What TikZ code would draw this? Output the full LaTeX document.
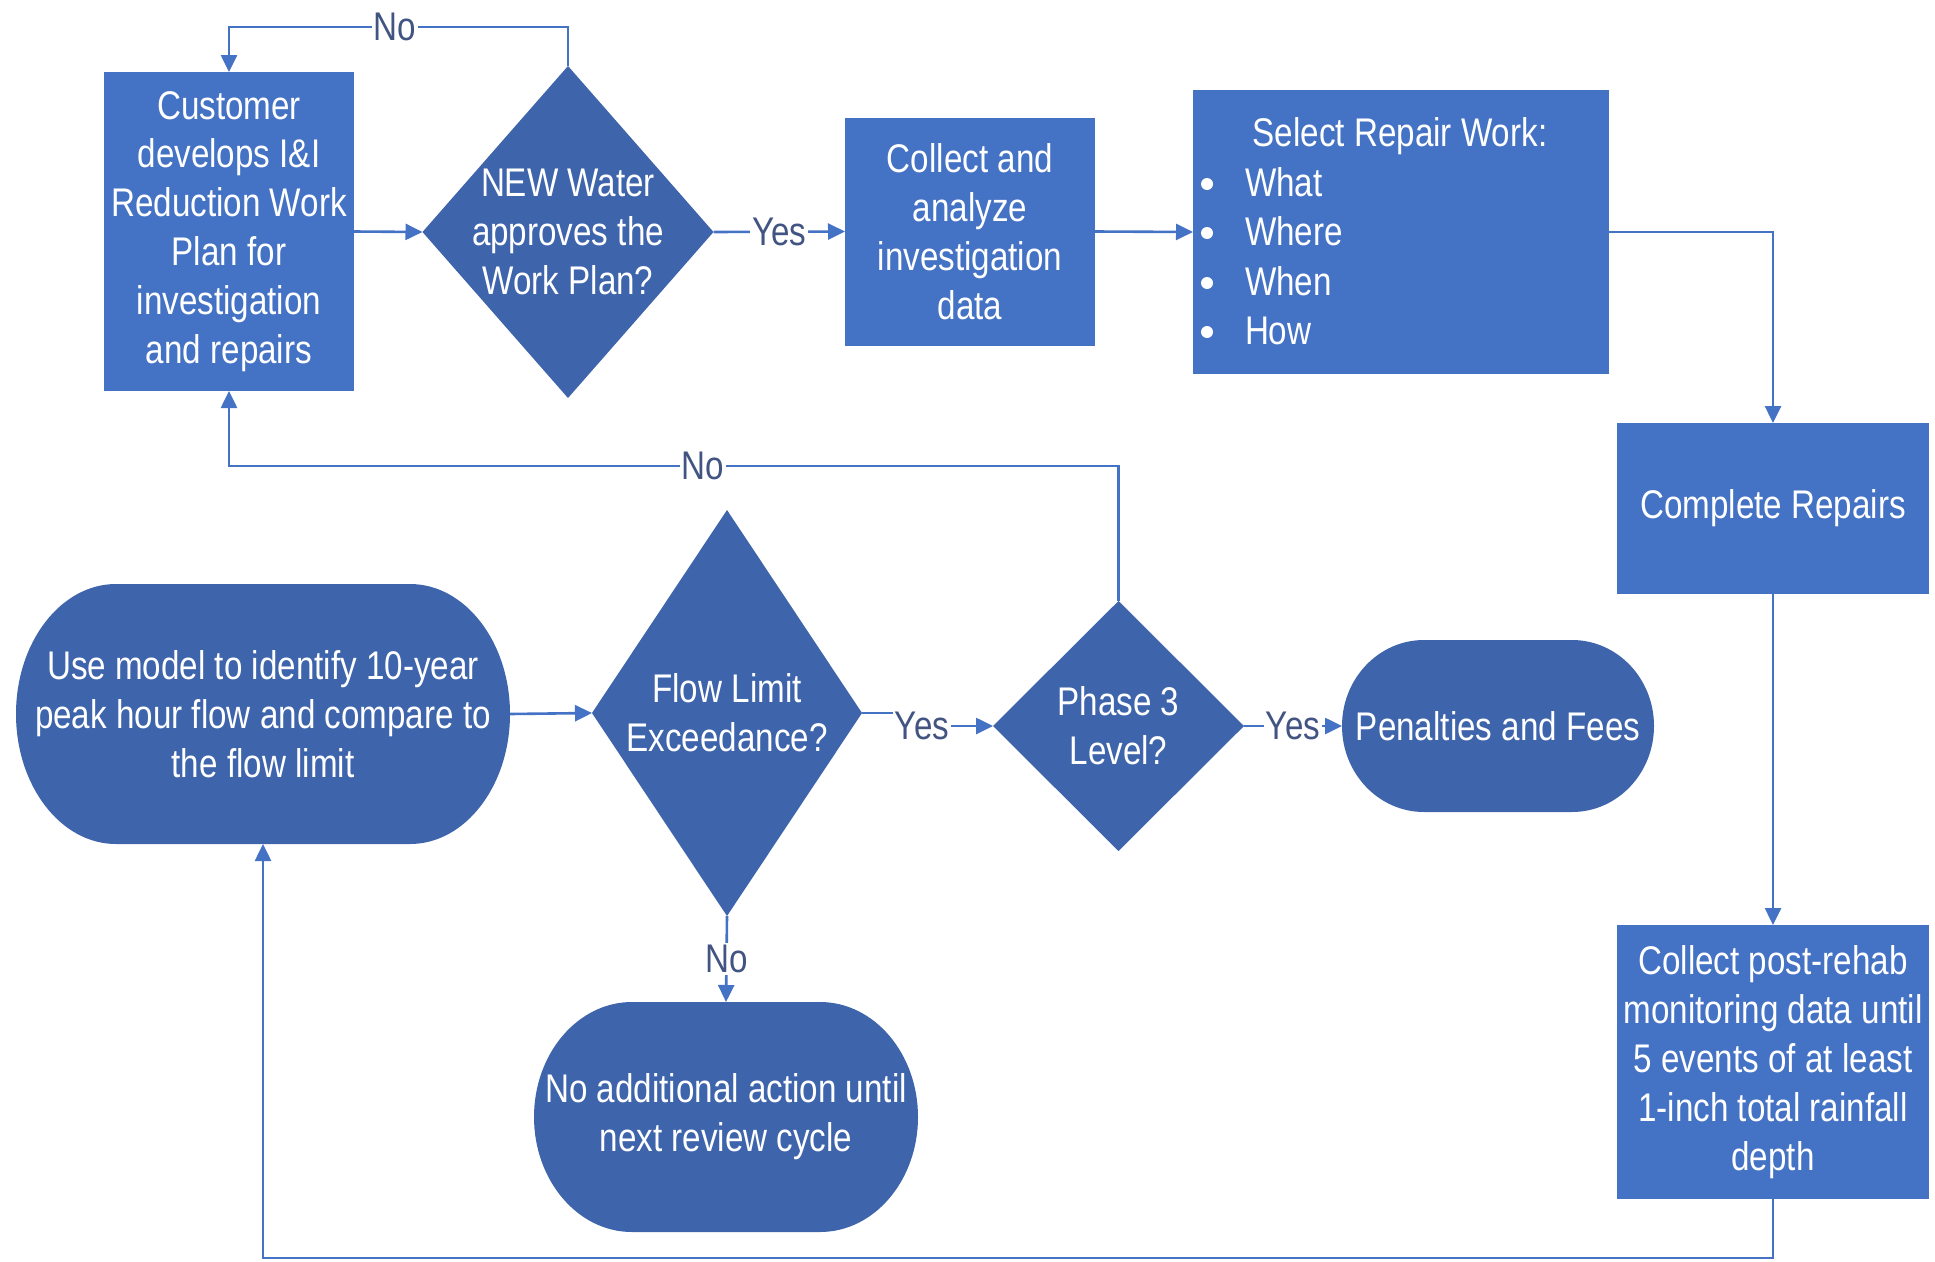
\documentclass[tikz,border=0pt]{standalone}
\usepackage{fontspec}
\setmainfont{Liberation Sans}[FakeStretch=0.83]
\usetikzlibrary{shapes.geometric,arrows.meta,backgrounds,calc}
\definecolor{boxblue}{RGB}{68,114,196}
\definecolor{darkblue}{RGB}{62,100,172}
\definecolor{lblcol}{RGB}{66,84,130}
\newcommand\stad[2]{\fill[darkblue] let \p1=(#1.north west), \p2=(#1.south east), \n1={(\y1-\y2)/2} in
  (\x1+#2,\y1) -- (\x2-#2,\y1) arc[start angle=90,end angle=-90,x radius=#2,y radius=\n1]
  -- (\x1+#2,\y2) arc[start angle=270,end angle=90,x radius=#2,y radius=\n1] -- cycle;}
\begin{document}
\begin{tikzpicture}[x=1pt,y=-1pt,
  txt/.style={text=white, align=center, font=\fontsize{40}{48.9}\selectfont, inner sep=0pt, outer sep=0pt},
  rbox/.style={txt, rectangle, fill=boxblue},
  dia/.style={diamond, fill=darkblue, inner sep=0pt, outer sep=0pt},
  arr/.style={draw=boxblue, line width=2.6pt, -{Triangle[length=17pt,width=16pt]}},
  lbl/.style={fill=white, text=lblcol, font=\fontsize{40}{48}\selectfont, inner sep=2pt}]
\useasboundingbox (0,0) rectangle (1935,1261);

% rectangles
\node[rbox, minimum width=250pt, minimum height=319pt] (cust) at (229,231.5)
  {Customer\\develops I\&I\\Reduction Work\\Plan for\\investigation\\and repairs};
\node[rbox, minimum width=250pt, minimum height=228pt] (coll) at (970,231.5)
  {Collect and\\analyze\\investigation\\data};
\node[rbox, minimum width=416pt, minimum height=284pt] (sel) at (1401,232) {};
\node[txt, anchor=base] (selh) at (1400,146) {Select Repair Work:};
\node[txt, anchor=base west] (s1) at (1245,196) {What};
\node[txt, anchor=base west] (s2) at (1245,245) {Where};
\node[txt, anchor=base west] (s3) at (1245,295) {When};
\node[txt, anchor=base west] (s4) at (1245,344) {How};
\foreach \yy in {184,233,283,332} \fill[white] (1207,\yy) circle[radius=6pt];
\node[rbox, minimum width=312pt, minimum height=171pt] (comp) at (1773,508.5) {Complete Repairs};
\node[rbox, minimum width=312pt, minimum height=274pt] (post) at (1773,1062)
  {Collect post-rehab\\monitoring data until\\5 events of at least\\1-inch total rainfall\\depth};

% diamonds
\node[dia, minimum width=291pt, minimum height=332pt] (nw) at (568,232) {};
\node[txt] (nwt) at (nw.center) {NEW Water\\approves the\\Work Plan?};
\node[dia, minimum width=270pt, minimum height=406pt] (flow) at (727,713) {};
\node[txt] (flowt) at (flow.center) {Flow Limit\\Exceedance?};
\node[dia, minimum width=251pt, minimum height=250pt] (phase) at (1118.5,726) {};
\node[txt] (phaset) at (phase.center) {Phase 3\\Level?};

% stadiums
\node[txt, minimum width=494pt, minimum height=260pt] (model) at (263,714)
  {Use model to identify 10-year\\peak hour flow and compare to\\the flow limit};
\node[txt, minimum width=384pt, minimum height=230pt] (noact) at (726,1117)
  {No additional action until\\next review cycle};
\node[txt, minimum width=312pt, minimum height=172pt] (pen) at (1498,726) {Penalties and Fees};

\begin{scope}[on background layer]
  \fill[white] (0,0) rectangle (1935,1261);
  \stad{model}{100pt}
  \stad{noact}{98pt}
  \stad{pen}{82pt}
\end{scope}

% connectors
\coordinate (topc) at (0,27);
\coordinate (midc) at (0,466);
\coordinate (botc) at (0,1258);
\coordinate (fj) at (922,714);

\draw[arr] (nw.north) -- (nw.north |- topc) -| (cust.north);
\node[lbl] (n1) at (395,27) {No};
\draw[arr] (cust.east) -- (nw.west);
\draw[arr] (nw.east) -- node[lbl] (y1) {Yes} (coll.west);
\draw[arr] (coll.east) -- (sel.west);
\draw[arr] (sel.east) -| (comp.north);
\draw[arr] (comp.south) -- (post.north);
\draw[arr] (post.south) -- (post.south |- botc) -| (model.south);
\draw[arr] (model.east) -- (flow.west);
\draw[arr] (flow.east) -- (flow.east -| fj) |- (phase.west);
\node[lbl] (y2) at (922,726) {Yes};
\draw[arr] (phase.east) -- node[lbl] (y3) {Yes} (pen.west);
\draw[arr] (phase.north) -- (phase.north |- midc) -| (cust.south);
\node[lbl] (n2) at (703,466) {No};
\draw[arr] (flow.south) -- node[lbl] (n3) {No} (noact.north);
\end{tikzpicture}
\end{document}
